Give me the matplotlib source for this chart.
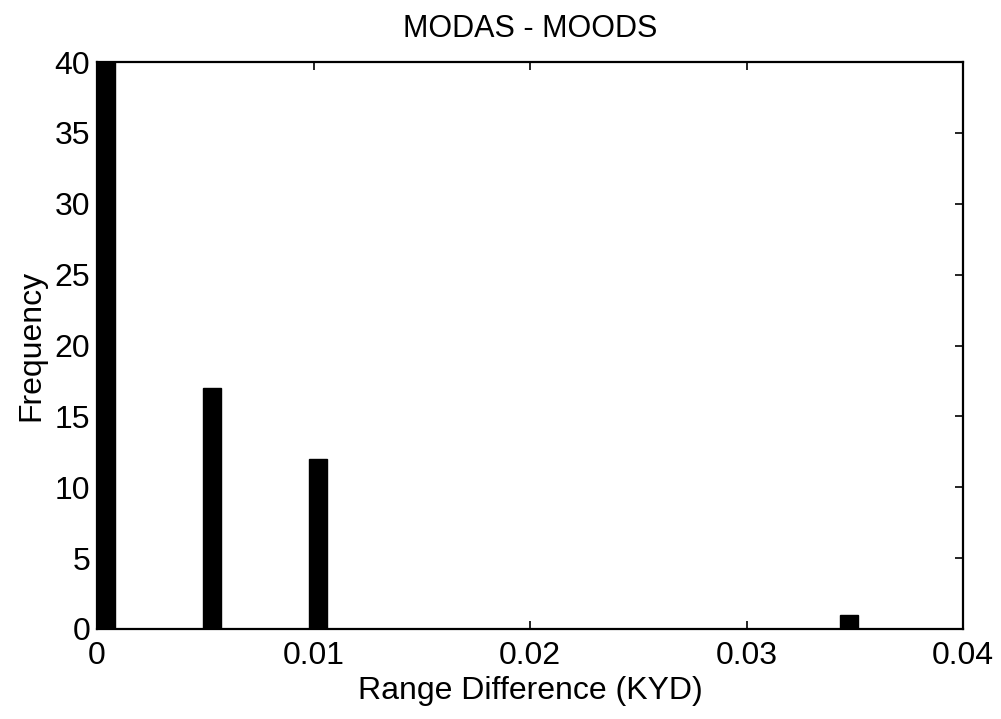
import matplotlib
matplotlib.use("Agg")
import matplotlib.pyplot as plt

plt.rcParams['font.family'] = ['Liberation Sans', 'DejaVu Sans']

# Histogram data (bin centres in KYD, counts)
bin_centers = [0.00042, 0.00532, 0.01022, 0.03472]
counts = [58, 17, 12, 1]
bar_width = 0.00083

x_ticks = [0, 0.01, 0.02, 0.03, 0.04]
x_tick_labels = ['0', '0.01', '0.02', '0.03', '0.04']
y_ticks = [0, 5, 10, 15, 20, 25, 30, 35, 40]

fig = plt.figure(figsize=(10.01, 7.19), dpi=100)
ax = fig.add_axes([97/1001, 1 - 629/719, 866/1001, 567/719])

ax.bar(bin_centers, counts, width=bar_width, color='black', edgecolor='black')

ax.set_xlim(0, 0.04)
ax.set_ylim(0, 40)
ax.set_xticks(x_ticks)
ax.set_xticklabels(x_tick_labels)
ax.set_yticks(y_ticks)

ax.tick_params(direction='in', top=True, right=True, length=6, width=1.2,
               labelsize=23, colors='black')
ax.tick_params(axis='x', pad=9)
ax.tick_params(axis='y', pad=5)
for s in ax.spines.values():
    s.set_linewidth(1.6)

ax.set_title('MODAS - MOODS', fontsize=22, pad=18)
ax.set_xlabel('Range Difference (KYD)', fontsize=23, labelpad=3)
ax.set_ylabel('Frequency', fontsize=23, labelpad=6)

fig.savefig('out.png', dpi=100)
